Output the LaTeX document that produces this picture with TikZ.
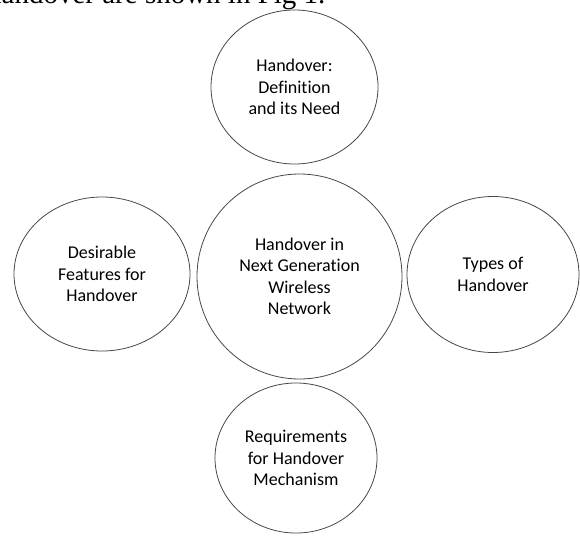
\documentclass[tikz,border=0pt]{standalone}
\usepackage{fontspec}
\setmainfont[Ligatures=NoCommon]{Carlito}
\newfontfamily\capserif{Liberation Serif}
\usetikzlibrary{shapes.geometric}
\begin{document}
\begin{tikzpicture}[x=1pt,y=-1pt,
  bub/.style={ellipse, draw=black!72, line width=0.8pt, inner sep=0pt, align=center,
    font=\fontsize{18}{21.5}\selectfont}]
\useasboundingbox (0,0) rectangle (580,535);
\clip (0,0) rectangle (580,535);
\node[anchor=base west, inner sep=0pt, font=\capserif\fontsize{29}{29}\selectfont] (cap) at (-13,4) {handover are shown in Fig 1.};
\node[bub, minimum width=167pt, minimum height=154pt] (def) at (294.5,87) {Handover:\\Definition\\and its Need};
\node[bub, minimum width=205pt, minimum height=205pt] (hub) at (299.5,276.5) {Handover in\\Next Generation\\Wireless\\Network};
\node[bub, minimum width=176pt, minimum height=154pt] (des) at (102,274) {Desirable\\Features for\\Handover};
\node[bub, minimum width=172pt, minimum height=156pt] (typ) at (493,274.5) {Types of\\Handover};
\node[bub, minimum width=162pt, minimum height=150pt] (req) at (296,458) {Requirements\\for Handover\\Mechanism};
\end{tikzpicture}
\end{document}
